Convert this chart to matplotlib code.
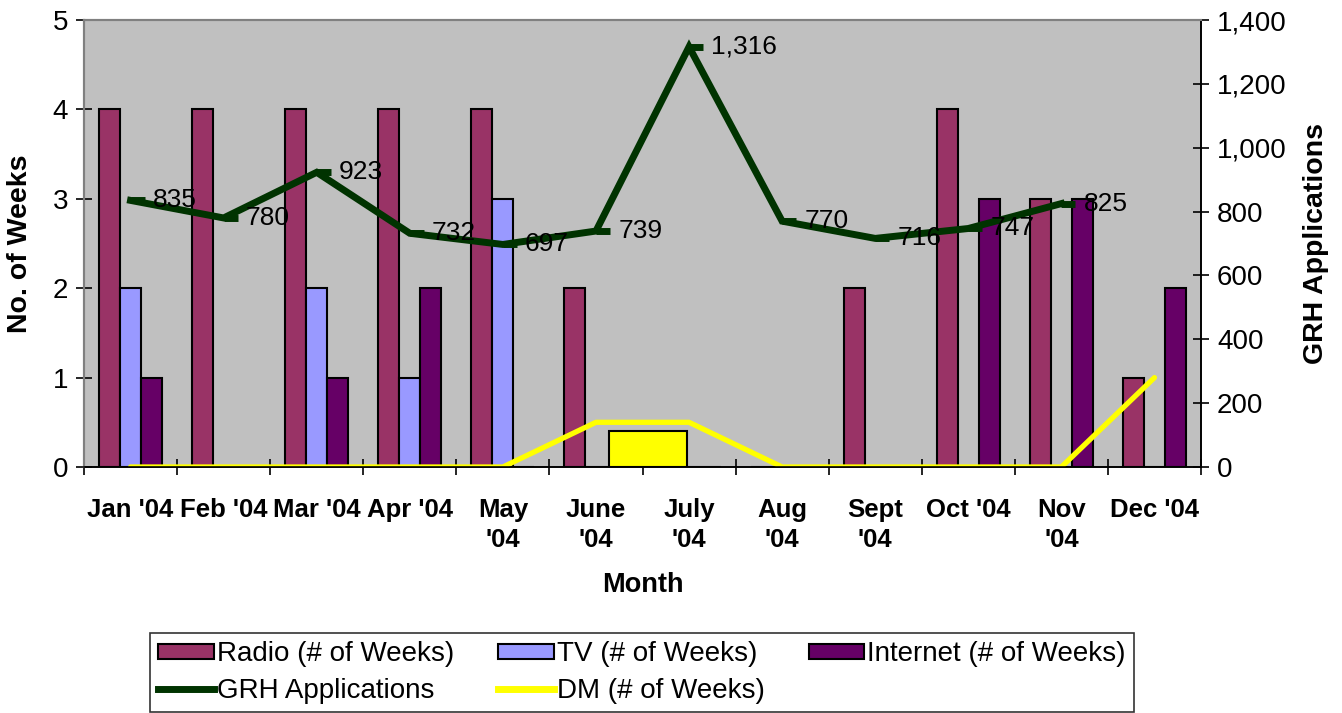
import matplotlib
matplotlib.use("Agg")
import matplotlib.pyplot as plt
import numpy as np
from matplotlib.path import Path
from matplotlib.patches import Patch
from matplotlib.lines import Line2D
from matplotlib.ticker import FuncFormatter

plt.rcParams['font.family'] = ['Liberation Sans', 'DejaVu Sans']

months = ["Jan '04", "Feb '04", "Mar '04", "Apr '04", "May\n'04", "June\n'04",
          "July\n'04", "Aug\n'04", "Sept\n'04", "Oct '04", "Nov\n'04", "Dec '04"]
radio = [4, 4, 4, 4, 4, 2, 0, 0, 2, 4, 3, 1]
tv = [2, 0, 2, 1, 3, 0, 0, 0, 0, 0, 0, 0]
internet = [1, 0, 1, 2, 0, 0, 0, 0, 0, 3, 3, 2]
dm = [0, 0, 0, 0, 0, 0.5, 0.5, 0, 0, 0, 0, 1]
grh = [835, 780, 923, 732, 697, 739, 1316, 770, 716, 747, 825]
dm_box = 0.4

c_radio = '#993366'
c_tv = '#9999FF'
c_int = '#660066'
c_grh = '#003300'
c_dm = '#FFFF00'

fig = plt.figure(figsize=(13.42, 7.13), dpi=100)
ax = fig.add_axes([84/1342, 1-467/713, 1117/1342, 447/713])
ax.set_facecolor('#C0C0C0')
ax2 = ax.twinx()

x = np.arange(len(months))
w = 0.2256
bk = dict(edgecolor='black', linewidth=1.5, zorder=2)
ax.bar(x - w, radio, w, color=c_radio, **bk)
ax.bar(x, tv, w, color=c_tv, **bk)
ax.bar(x + w, internet, w, color=c_int, **bk)
ax.bar([5.56], [dm_box], 0.83, color=c_dm, **bk)
ax.plot(x, dm, color=c_dm, lw=3.8, zorder=3, solid_capstyle='round')

ax.set_xlim(-0.5, len(months) - 0.5)
ax.set_ylim(0, 5)
ax.set_yticks(range(6))
ax2.set_ylim(0, 1400)
ax2.set_yticks(range(0, 1401, 200))
ax2.yaxis.set_major_formatter(FuncFormatter(lambda v, p: f"{int(v):,}"))

gx = x[:len(grh)]
flag = Path([(0, 0), (1, 0)], [Path.MOVETO, Path.LINETO])
ax2.plot(gx, grh, color=c_grh, lw=5, zorder=4, solid_joinstyle='miter',
         marker=flag, markersize=20, markeredgewidth=5, markeredgecolor=c_grh)
for xi, v in zip(gx, grh):
    ax2.annotate(f"{v:,}", (xi, v), xytext=(16, 0), textcoords='offset points',
                 ha='left', va='center', fontsize=19, zorder=5)

# x axis ticks
ax.set_xticks(x)
ax.set_xticklabels(months, fontsize=18.5, fontweight='bold', linespacing=1.35)
ax.tick_params(axis='x', which='major', length=0, pad=22)
ax.set_xticks(np.arange(-0.5, len(months)), minor=True)
ax.tick_params(axis='x', which='minor', length=11, direction='inout', width=1.2)
ax.tick_params(axis='y', labelsize=20, length=11, direction='inout', width=1.2, pad=6)
ax2.tick_params(axis='y', labelsize=20, length=11, direction='inout', width=1.2, pad=6)

for a in (ax, ax2):
    a.spines['top'].set_color('#808080')
    a.spines['top'].set_linewidth(1.5)
    a.spines['left'].set_color('#808080')
    a.spines['left'].set_linewidth(1.5)
    a.spines['bottom'].set_color('black')
    a.spines['bottom'].set_linewidth(1.2)
    a.spines['right'].set_color('black')
    a.spines['right'].set_linewidth(1.2)

ax.set_ylabel('No. of Weeks', fontsize=20.5, fontweight='bold', labelpad=14)
ax2.set_ylabel('GRH Applications', fontsize=20.5, fontweight='bold', labelpad=12)
ax.set_xlabel('Month', fontsize=19.5, fontweight='bold', labelpad=14)

handles = [
    Patch(facecolor=c_radio, edgecolor='black', linewidth=1.5),
    Line2D([], [], color=c_grh, lw=5),
    Patch(facecolor=c_tv, edgecolor='black', linewidth=1.5),
    Line2D([], [], color=c_dm, lw=5),
    Patch(facecolor=c_int, edgecolor='black', linewidth=1.5),
]
labels = ['Radio (# of Weeks)', 'GRH Applications', 'TV (# of Weeks)',
          'DM (# of Weeks)', 'Internet (# of Weeks)']
leg = fig.legend(handles, labels, ncol=3, loc='upper center',
                 bbox_to_anchor=(642/1342, 1-633/713), fontsize=20,
                 frameon=True, fancybox=False, edgecolor='black',
                 handlelength=2.0, handleheight=0.5, handletextpad=0.1,
                 columnspacing=1.6, labelspacing=0.38, borderpad=0.3,
                 borderaxespad=0)
leg.get_frame().set_linewidth(1.2)

fig.savefig('out.png', dpi=100)
